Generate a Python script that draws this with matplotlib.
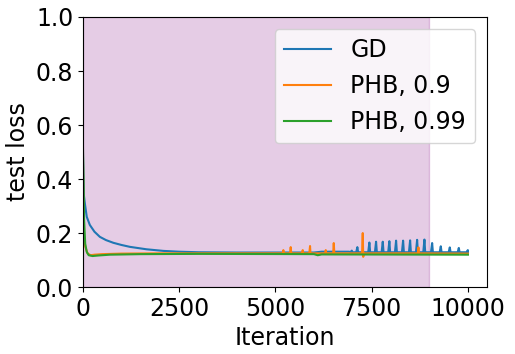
import matplotlib
matplotlib.use("Agg")
import matplotlib.pyplot as plt

plt.rcParams['font.size'] = 17

# GD test loss
gd_iter = [0, 10, 25, 50, 100, 180, 300, 440, 600, 790, 1000, 1220, 1650, 2090, 2500,
           3000, 4000, 5000, 6000, 6200, 6900,
           6953, 6983, 7003, 7098, 7128, 7148, 7410, 7440, 7460, 7584, 7614, 7634,
           7758, 7788, 7808, 7929, 7959, 7979, 8104, 8134, 8154, 8286, 8316, 8336,
           8468, 8498, 8518, 8650, 8680, 8700, 8840, 8870, 8890, 9040, 9070, 9090,
           9265, 9295, 9315, 9499, 9529, 9549, 9733, 9763, 9783, 9967, 9997, 10000]
gd_loss = [0.50, 0.42, 0.34, 0.31, 0.26, 0.23, 0.205, 0.186, 0.174, 0.164, 0.156, 0.149, 0.140, 0.134, 0.131,
           0.129, 0.128, 0.128, 0.128, 0.131, 0.131,
           0.130, 0.135, 0.129, 0.129, 0.148, 0.129, 0.129, 0.165, 0.129, 0.129, 0.168, 0.129,
           0.129, 0.168, 0.129, 0.129, 0.170, 0.129, 0.129, 0.172, 0.129, 0.129, 0.172, 0.129,
           0.129, 0.173, 0.129, 0.129, 0.175, 0.129, 0.129, 0.176, 0.129, 0.129, 0.163, 0.129,
           0.129, 0.151, 0.129, 0.129, 0.147, 0.129, 0.129, 0.145, 0.129, 0.129, 0.137, 0.129]

# PHB, beta = 0.9
phb9_iter = [0, 10, 25, 60, 120, 200, 300, 500, 1000, 2000, 3000, 5000,
             5190, 5206, 5220, 5380, 5397, 5410, 5690, 5709, 5720, 5880, 5899, 5910,
             6290, 6307, 6320, 6500, 6515, 6530, 7250, 7268, 7280, 7300,
             8700, 8714, 8725, 10000]
phb9_loss = [0.50, 0.30, 0.19, 0.15, 0.125, 0.118, 0.120, 0.122, 0.124, 0.125, 0.125, 0.125,
             0.125, 0.137, 0.125, 0.125, 0.148, 0.125, 0.125, 0.137, 0.125, 0.125, 0.152, 0.125,
             0.125, 0.137, 0.125, 0.125, 0.163, 0.125, 0.125, 0.200, 0.112, 0.125,
             0.125, 0.147, 0.125, 0.124]

# PHB, beta = 0.99
phb99_iter = [0, 15, 30, 60, 100, 150, 250, 400, 700, 1500, 3000, 6000, 6100, 6200, 10000]
phb99_loss = [0.53, 0.40, 0.25, 0.16, 0.13, 0.118, 0.115, 0.117, 0.120, 0.122, 0.123, 0.122,
              0.118, 0.121, 0.120]

fig, ax = plt.subplots(figsize=(5.15, 3.54), dpi=100)
fig.subplots_adjust(left=0.161, right=0.946, top=0.952, bottom=0.189)

ax.axvspan(0, 9000, color='purple', alpha=0.2)
ax.plot(gd_iter, gd_loss, label="GD")
ax.plot(phb9_iter, phb9_loss, label="PHB, 0.9")
ax.plot(phb99_iter, phb99_loss, label="PHB, 0.99")

ax.set_xlim(0, 10500)
ax.set_ylim(0, 1.0)
ax.set_xticks([0, 2500, 5000, 7500, 10000])
ax.set_xlabel("Iteration")
ax.set_ylabel("test loss")
ax.legend(loc="upper right")

plt.savefig("out.png")
